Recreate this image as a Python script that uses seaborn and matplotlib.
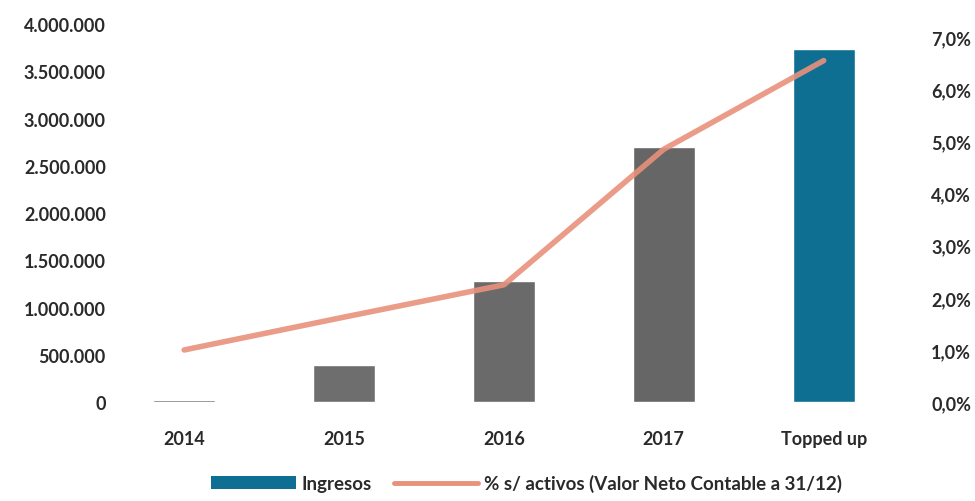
import matplotlib
matplotlib.use("Agg")
import matplotlib.pyplot as plt
import seaborn as sns
import pandas as pd
from matplotlib.patches import Patch
from matplotlib.lines import Line2D
from matplotlib.ticker import FuncFormatter, MultipleLocator

categories = ["2014", "2015", "2016", "2017", "Topped up"]
ingresos = [20000, 390000, 1280000, 2700000, 3740000]
pct_activos = [1.0, 1.63, 2.25, 4.85, 6.55]
bar_colors = ["#5f5f5f", "#6e6e6e", "#6a6a6a", "#666666", "#0f6f92"]
line_color = "#e8917c"

sns.set_theme(style="white")
plt.rcParams["font.family"] = ["Lato", "DejaVu Sans"]

df = pd.DataFrame({"cat": categories, "ingresos": ingresos, "pct": pct_activos,
                   "pos": list(range(len(categories)))})

fig = plt.figure(figsize=(9.75, 5.02), dpi=100)
ax = fig.add_axes([0.12, 0.197, 0.815, 0.753])

sns.barplot(data=df, x="cat", y="ingresos", hue="cat", palette=bar_colors,
            order=categories, hue_order=categories, legend=False, width=0.39,
            ax=ax, saturation=1)
ax.set_xlim(-0.42, 4.55)
ax.set_ylim(0, 4000000)
ax.yaxis.set_major_locator(MultipleLocator(500000))
ax.yaxis.set_major_formatter(FuncFormatter(lambda v, p: f"{int(v):,}".replace(",", ".")))
ax.set_xlabel("")
ax.set_ylabel("")
for s in ax.spines.values():
    s.set_visible(False)
ax.tick_params(axis="y", length=0, pad=8, labelsize=13, labelcolor="#2a2a2a")
ax.tick_params(axis="x", length=0, pad=20, labelsize=13, labelcolor="#2a2a2a")
for lbl in ax.get_xticklabels() + ax.get_yticklabels():
    lbl.set_fontweight("bold")

ax2 = ax.twinx()
sns.lineplot(data=df, x="pos", y="pct", color=line_color, linewidth=4, alpha=0.9,
             ax=ax2)
ax2.set_xlim(-0.42, 4.55)
ax2.set_ylim(0, 7.25)
ax2.yaxis.set_major_locator(MultipleLocator(1.0))
ax2.yaxis.set_major_formatter(FuncFormatter(lambda v, p: f"{v:.1f}%".replace(".", ",")))
ax2.set_ylabel("")
ax2.set_xlabel("")
for s in ax2.spines.values():
    s.set_visible(False)
ax2.tick_params(axis="y", length=0, pad=14, labelsize=13, labelcolor="#2a2a2a")
for lbl in ax2.get_yticklabels():
    lbl.set_fontweight("bold")

handles = [Patch(facecolor="#0f6f92", edgecolor="none", label="Ingresos"),
           Line2D([], [], color=line_color, linewidth=3.5, label="% s/ activos (Valor Neto Contable a 31/12)")]
leg = fig.legend(handles=handles, loc="center", bbox_to_anchor=(0.54, 0.035), ncol=2,
                 frameon=False, fontsize=13.5, handlelength=4.5, handletextpad=0.3,
                 columnspacing=1.2)
for t in leg.get_texts():
    t.set_fontweight("bold")
    t.set_color("#2a2a2a")

fig.savefig("out.png", dpi=100)
